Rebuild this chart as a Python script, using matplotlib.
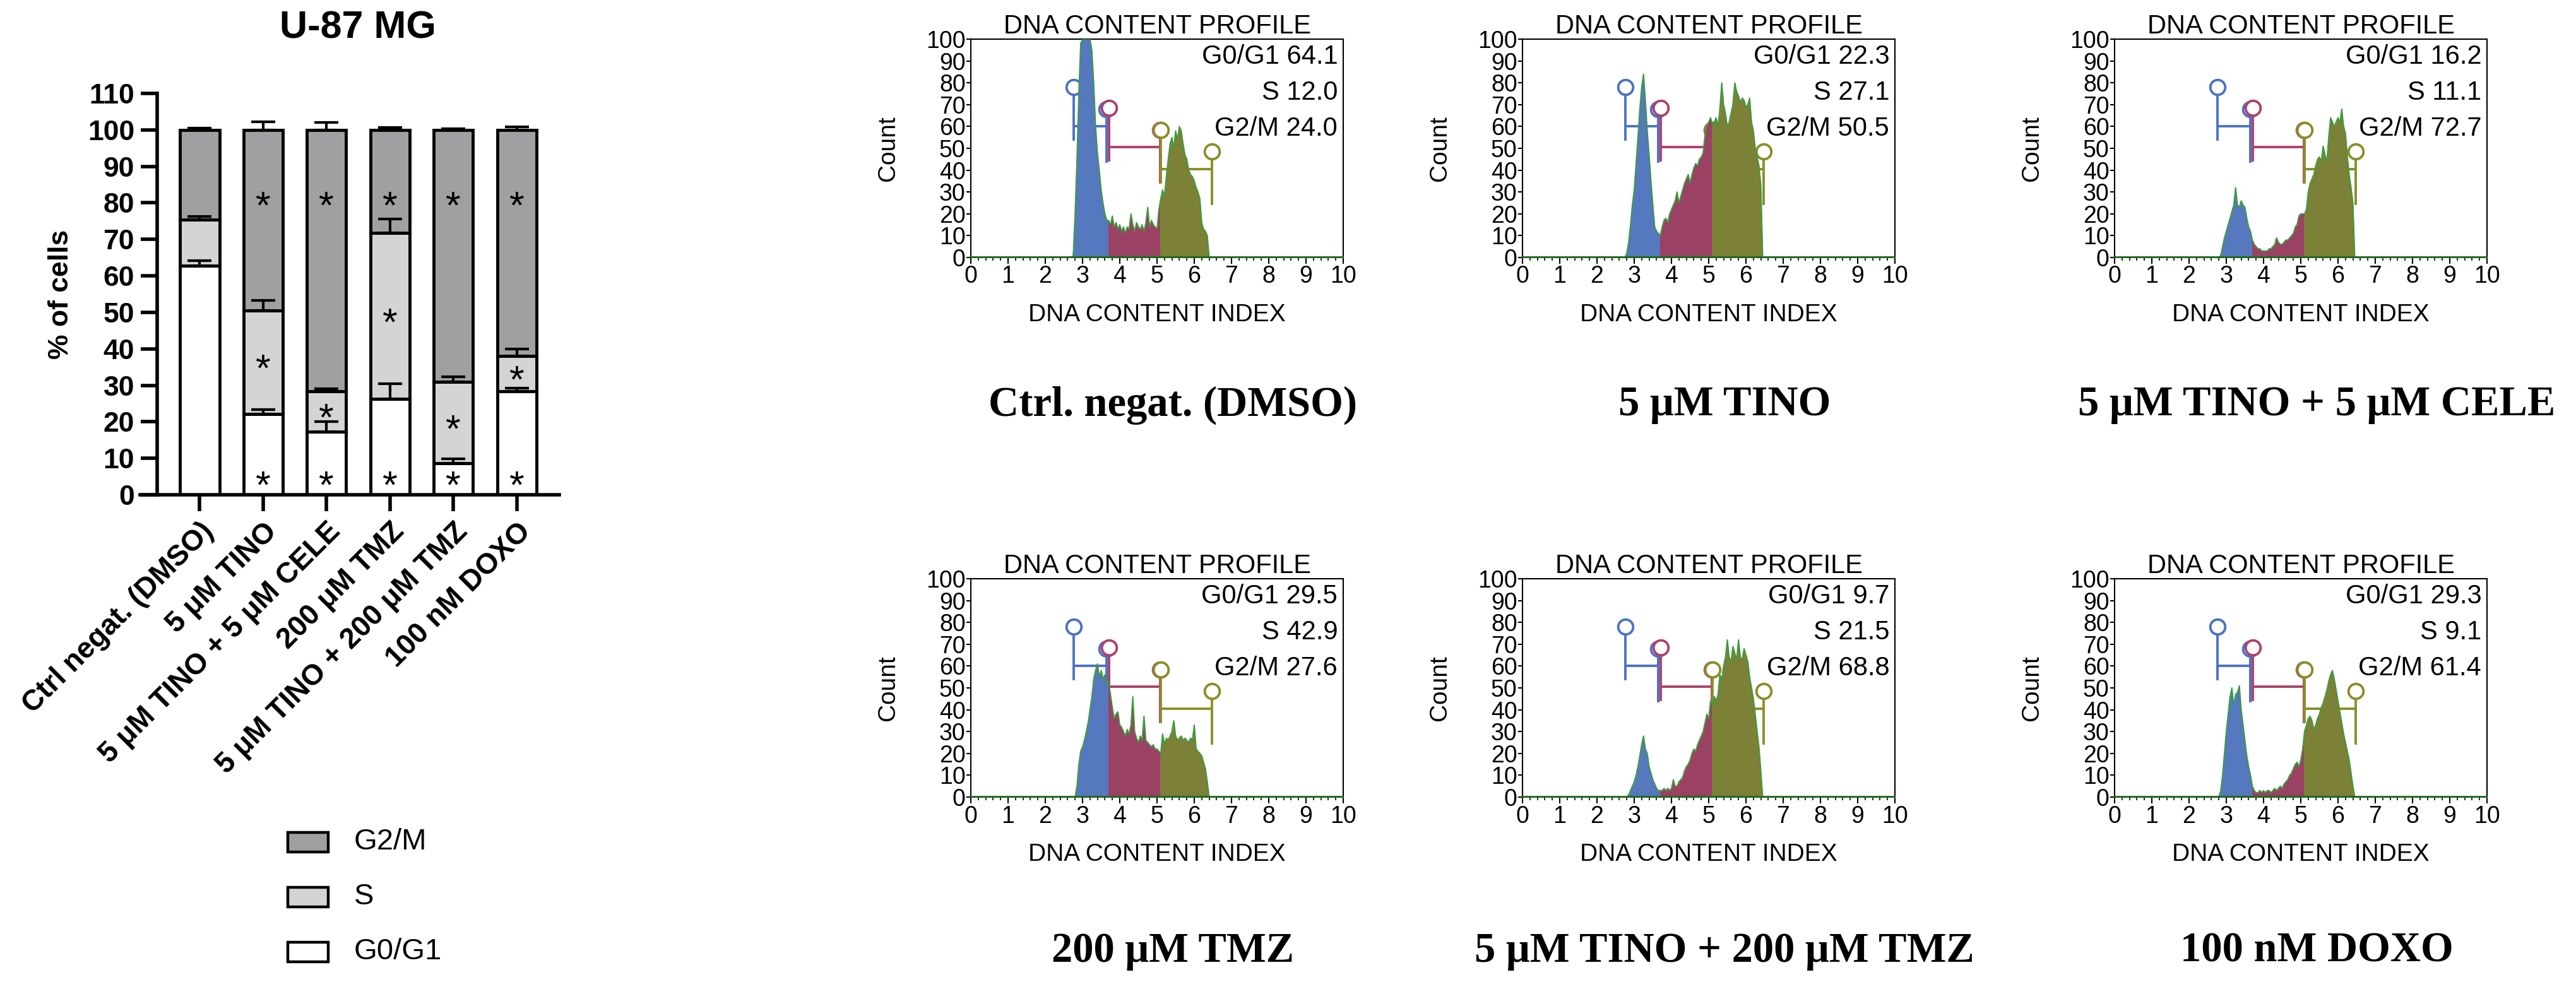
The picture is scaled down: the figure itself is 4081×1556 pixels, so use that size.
import numpy as np
import matplotlib
matplotlib.use('Agg')
import matplotlib.pyplot as plt
from matplotlib.patches import Rectangle

# ---------------- data: stacked bar chart (U-87 MG) ----------------
CONDITIONS = ["Ctrl negat. (DMSO)", "5 μM TINO", "5 μM TINO + 5 μM CELE",
              "200 μM TMZ", "5 μM TINO + 200 μM TMZ", "100 nM DOXO"]
G0G1 = [62.7, 22.2, 17.3, 26.3, 8.7, 28.4]
S_PHASE = [12.7, 28.3, 11.1, 45.4, 22.2, 9.7]
G2M = [24.6, 49.5, 71.6, 28.3, 69.1, 61.9]
G0G1_ERR = [1.5, 1.1, 2.8, 4.2, 1.1, 0.8]
S_ERR = [0.8, 2.8, 0.7, 3.9, 1.4, 1.8]
G2M_ERR = [0.5, 2.3, 2.1, 0.7, 0.4, 0.8]
SIGNIFICANT = [False, True, True, True, True, True]
LEGEND_LABELS = ["G2/M", "S", "G0/G1"]

# ---------------- data: DNA content histograms ----------------
PANEL_TITLES = ["Ctrl. negat. (DMSO)", "5 μM TINO", "5 μM TINO + 5 μM CELE",
                "200 μM TMZ", "5 μM TINO + 200 μM TMZ", "100 nM DOXO"]
PHASE_G0G1 = [64.1, 22.3, 16.2, 29.5, 9.7, 29.3]
PHASE_S = [12.0, 27.1, 11.1, 42.9, 21.5, 9.1]
PHASE_G2M = [24.0, 50.5, 72.7, 27.6, 68.8, 61.4]

HIST_X0 = 2.70      # DNA content index of first bin
HIST_STEP = 0.05    # bin width

HIST_CTRL = [0, 1, 20, 45, 75, 98, 100, 100, 100, 100,
             100, 95, 80, 60, 48, 40, 31, 25, 20, 17,
             17, 15, 19, 14, 16, 13, 15, 12, 14, 11,
             14, 13, 20, 15, 12, 16, 14, 13, 15, 12,
             16, 23, 14, 17, 15, 14, 13, 22, 27, 31,
             28, 37, 45, 52, 55, 50, 58, 54, 60, 58,
             52, 47, 45, 40, 38, 37, 35, 32, 30, 27,
             16, 13, 12, 10, 0, 0]
HIST_TINO = [0, 0, 2, 7, 15, 24, 31, 43, 55, 68,
             78, 84, 72, 58, 47, 35, 24, 14, 12, 11,
             10, 14, 17, 18, 16, 20, 22, 24, 26, 30,
             25, 28, 31, 34, 36, 38, 34, 38, 41, 43,
             42, 45, 46, 48, 56, 60, 62, 64, 61, 62,
             64, 60, 68, 80, 70, 66, 60, 62, 66, 70,
             80, 76, 74, 71, 73, 72, 69, 70, 73, 62,
             58, 50, 46, 42, 33, 0]
HIST_TINO_CELE = [0, 0, 0, 1, 5, 9, 12, 15, 18, 21,
                  24, 32, 24, 23, 26, 24, 23, 18, 14, 12,
                  8, 6, 5, 4, 4, 3, 3, 3, 3, 4,
                  4, 5, 6, 9, 7, 6, 6, 7, 8, 8,
                  9, 10, 11, 14, 15, 19, 20, 20, 20, 22,
                  30, 34, 36, 38, 42, 45, 46, 44, 51, 47,
                  44, 55, 64, 62, 60, 62, 64, 62, 68, 60,
                  57, 46, 38, 32, 25, 0]
HIST_TMZ = [0, 0, 0, 5, 15, 21, 23, 26, 30, 34,
            40, 46, 54, 58, 61, 55, 58, 54, 56, 52,
            53, 47, 41, 36, 38, 39, 33, 32, 30, 28,
            31, 29, 33, 46, 30, 27, 25, 28, 26, 37,
            26, 25, 24, 23, 24, 22, 22, 21, 20, 29,
            24, 27, 26, 28, 30, 35, 28, 26, 27, 28,
            26, 27, 26, 25, 27, 26, 33, 22, 21, 20,
            19, 16, 13, 7, 0, 0]
HIST_TINO_TMZ = [0, 0, 0, 1, 3, 5, 7, 10, 14, 19,
                 24, 28, 22, 20, 14, 11, 8, 6, 4, 3,
                 3, 3, 4, 3, 4, 3, 4, 8, 5, 5,
                 7, 8, 9, 12, 14, 15, 17, 20, 22, 21,
                 24, 26, 28, 30, 34, 38, 36, 44, 42, 46,
                 44, 47, 56, 54, 60, 64, 72, 64, 62, 69,
                 66, 63, 72, 64, 63, 68, 65, 62, 55, 50,
                 45, 38, 30, 23, 12, 0]
HIST_DOXO = [0, 0, 0, 3, 10, 20, 30, 38, 46, 50,
             42, 47, 48, 51, 40, 33, 26, 19, 14, 10,
             5, 3, 2, 2, 3, 2, 3, 2, 3, 3,
             2, 3, 4, 3, 4, 5, 4, 6, 7, 8,
             10, 11, 13, 15, 16, 14, 17, 22, 30, 33,
             36, 37, 35, 31, 33, 36, 38, 41, 43, 46,
             49, 53, 56, 58, 54, 49, 44, 39, 34, 29,
             25, 21, 17, 11, 5, 0]
HISTS = [HIST_CTRL, HIST_TINO, HIST_TINO_CELE, HIST_TMZ, HIST_TINO_TMZ, HIST_DOXO]

# phase region boundaries (DNA content index) and gate markers
REGION_EDGES = [0.0, 3.70, 5.08, 10.0]
GATES = [(2.76, 3.65, 60.0), (3.72, 5.08, 50.5), (5.11, 6.48, 40.5)]

# ---------------- style ----------------
W, H, DPI = 4081, 1556, 100
plt.rcParams['font.family'] = ['Liberation Sans', 'DejaVu Sans']
SERIF = ['Liberation Serif', 'DejaVu Serif']
FILL_COLORS = ['#5578be', '#9b4164', '#7d8037']
GATE_COLORS = ['#4c72c4', '#b0406a', '#8d8d2a']
OUTLINE = '#3c9a3c'
BAR_COLORS = ['white', '#d4d4d4', '#a0a0a3']

fig = plt.figure(figsize=(W / DPI, H / DPI), dpi=DPI)


def px_axes(left, top, right, bottom):
    return fig.add_axes([left / W, 1 - bottom / H, (right - left) / W, (bottom - top) / H])


def fig_text(x, y, s, **kw):
    fig.text(x / W, 1 - y / H, s, **kw)


# ================= stacked bar chart =================
ax = px_axes(222, 148, 886, 784)
n = len(CONDITIONS)
xpos = np.arange(n)
bw = 0.62
g0 = np.array(G0G1, float)
sp = np.array(S_PHASE, float)
g2 = np.array(G2M, float)
top_s = g0 + sp
top_g2 = top_s + g2
for vals, bott, col in [(g0, None, BAR_COLORS[0]), (sp, g0, BAR_COLORS[1]), (g2, top_s, BAR_COLORS[2])]:
    ax.bar(xpos, vals, bw, bottom=bott, color=col, edgecolor='black', linewidth=3.5, zorder=2)
for tops, errs in [(g0, G0G1_ERR), (top_s, S_ERR), (top_g2, G2M_ERR)]:
    ax.errorbar(xpos, tops, yerr=[np.zeros(n), errs], fmt='none', ecolor='black',
                elinewidth=3, capsize=14, capthick=3, zorder=3)

STAR_FS = 44


def star(xi, yv):
    ax.annotate('*', (xi, yv), xytext=(0, -0.58 * STAR_FS), textcoords='offset points',
                ha='center', va='baseline', fontsize=STAR_FS, zorder=4)


for i in range(n):
    if SIGNIFICANT[i]:
        star(xpos[i], 5.3)
        star(xpos[i], g0[i] + sp[i] / 2 + 1)
        star(xpos[i], 82)

ax.set_xlim(-0.94, 5.67)
ax.set_ylim(0, 110)
ax.spines['left'].set_position(('data', -0.67))
ax.spines['left'].set_bounds(0, 110)
ax.spines['top'].set_visible(False)
ax.spines['right'].set_visible(False)
for s in ['left', 'bottom']:
    ax.spines[s].set_linewidth(4)
ax.set_yticks(range(0, 111, 10))
ax.set_xticks(xpos)
ax.tick_params(axis='both', direction='out', length=19, width=4, labelsize=32, pad=7)
ax.set_xticklabels(CONDITIONS, rotation=45, ha='right', rotation_mode='anchor',
                   fontweight='bold', fontsize=33)
for lab in ax.get_yticklabels():
    lab.set_fontweight('bold')
ax.patch.set_alpha(0)

fig_text(567, 45, 'U-87 MG', fontsize=44, fontweight='bold', ha='center', va='center')
fig_text(96, 466, '% of cells', fontsize=32, fontweight='bold', rotation=90, ha='center', va='center')

# legend
for lab, col, yc in zip(LEGEND_LABELS, [BAR_COLORS[2], BAR_COLORS[1], BAR_COLORS[0]], [1334, 1421, 1508]):
    fig.add_artist(Rectangle((456 / W, 1 - (yc + 15.5) / H), 64 / W, 31 / H, transform=fig.transFigure,
                             facecolor=col, edgecolor='black', linewidth=3.2))
    fig_text(561, yc, lab, fontsize=34, ha='left', va='center')

# ================= DNA content histograms =================
COL_LEFT = [1538, 2412, 3350]
ROW_TOP = [62, 917]
PANEL_W, PANEL_H = 590, 346
CAPTION_Y = [642, 1507]

for i in range(6):
    r, c = divmod(i, 3)
    left, top = COL_LEFT[c], ROW_TOP[r]
    hx = px_axes(left, top, left + PANEL_W, top + PANEL_H)
    vals = np.array(HISTS[i], float)
    xs = HIST_X0 + HIST_STEP * np.arange(len(vals))

    # gate markers (drawn beneath the histogram)
    for (x1, x2, hh), gc in zip(GATES, GATE_COLORS):
        hx.plot([x1, x2], [hh, hh], color=gc, lw=2.8, zorder=1, solid_capstyle='butt')
        hx.plot([x1, x1], [hh - 6, hh + 18], color=gc, lw=2.8, zorder=1)
        hx.plot([x2, x2], [hh - 16, hh + 8], color=gc, lw=2.8, zorder=1)
        hx.plot([x1], [hh + 18], marker='o', ms=17, mfc='white', mec=gc, mew=2.8, zorder=1.5)
        hx.plot([x2], [hh + 8], marker='o', ms=17, mfc='white', mec=gc, mew=2.8, zorder=1.5)

    # phase-coloured fills
    for k in range(3):
        a, b = REGION_EDGES[k], REGION_EDGES[k + 1]
        poly = hx.fill_between(xs, 0, vals, color=FILL_COLORS[k], lw=0, zorder=2)
        poly.set_clip_path(Rectangle((a, -10), b - a, 130, transform=hx.transData))
    hx.plot(xs, vals, color=OUTLINE, lw=1.4, zorder=3)
    hx.axhline(0, color='#1f6a1f', lw=3.5, zorder=4)

    hx.set_xlim(0, 10)
    hx.set_ylim(0, 100)
    hx.set_xticks(range(11))
    hx.set_xticks(np.arange(0, 10.01, 0.2), minor=True)
    hx.set_yticks(range(0, 101, 10))
    hx.tick_params(which='major', direction='out', length=7, width=1.5, labelsize=27, pad=2)
    hx.tick_params(which='minor', direction='out', length=3.5, width=1.2)
    hx.tick_params(axis='y', which='major', length=5, pad=1)
    for s in hx.spines.values():
        s.set_linewidth(1.5)
    hx.spines['bottom'].set_color('#1f6a1f')
    hx.set_title('DNA CONTENT PROFILE', fontsize=30, pad=6)
    hx.text(0.5, -0.262, 'DNA CONTENT INDEX', transform=hx.transAxes, ha='center', va='center', fontsize=28)
    hx.text(-131 / PANEL_W, 0.5, 'Count', transform=hx.transAxes, rotation=90,
            ha='center', va='center', fontsize=28)
    hx.text(9.85, 92, f'G0/G1 {PHASE_G0G1[i]:.1f}', ha='right', va='center', fontsize=30, zorder=5)
    hx.text(9.85, 75.5, f'S {PHASE_S[i]:.1f}', ha='right', va='center', fontsize=30, zorder=5)
    hx.text(9.85, 59, f'G2/M {PHASE_G2M[i]:.1f}', ha='right', va='center', fontsize=30, zorder=5)

    fig_text(left + PANEL_W / 2 + 25, CAPTION_Y[r], PANEL_TITLES[i], family=SERIF,
             fontweight='bold', fontsize=48, ha='center', va='center')

fig.savefig('out.png', dpi=DPI)
